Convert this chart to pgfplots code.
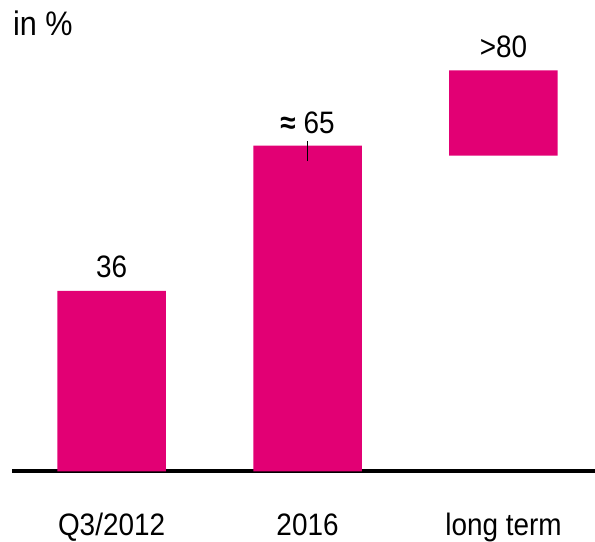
\documentclass[border=0pt]{standalone}
\usepackage{pgfplots}
\pgfplotsset{compat=1.18}
\usepackage{fontspec}
\setmainfont{Liberation Sans}[FakeStretch=0.9]
\definecolor{tmag}{HTML}{E20074}
\newcommand{\bigf}{\fontsize{31bp}{36bp}\selectfont}
\begin{document}
\begin{tikzpicture}[x=1bp,y=1bp]
\begin{axis}[
  at={(0,0)}, anchor=south west,
  scale only axis, width=583bp, height=471.5bp,
  ybar stacked, bar width=108.5bp,
  xmin=-0.508, xmax=2.467, ymin=0, ymax=94.04,
  axis x line*=bottom, axis y line=none,
  x axis line style={line width=4bp, -},
  xtick=data, xticklabels={Q3/2012,2016,long term},
  xtick style={draw=none}, ytick=\empty,
  xticklabel style={anchor=base, yshift=-63.5bp, inner sep=0pt, font=\bigf},
  clip=false,
]
\addplot[draw=none, fill=none] coordinates {(0,0) (1,0) (2,63)};
\addplot[draw=none, fill=tmag,
  error bars/.cd, y dir=both, y explicit, error mark=none,
  error bar style={black, line width=1.5bp}]
  coordinates {(0,36) (1,65) += (0,0.9) -= (0,3.1) (2,17)};
\node[anchor=base, inner sep=0pt, yshift=13bp, font=\bigf] at (axis cs:0,36) {36};
\node[anchor=base, inner sep=0pt, yshift=12bp, font=\bigf] at (axis cs:1,65) {\textbf{≈} 65};
\node[anchor=base, inner sep=0pt, yshift=13bp, font=\bigf] at (axis cs:2,80) {>80};
\end{axis}
\node[anchor=base west, inner sep=0pt, font=\fontsize{34bp}{40bp}\selectfont] at (1,435.5) {in \%};
\pgfresetboundingbox
\path (-12,-70.5) rectangle (583,471.5);
\end{tikzpicture}
\end{document}
